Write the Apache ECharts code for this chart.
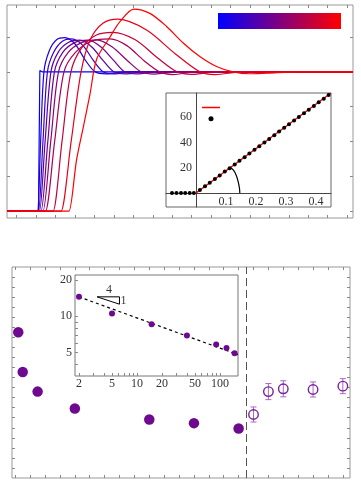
<!DOCTYPE html>
<html lang="en">
<head>
<meta charset="utf-8" />
<title>step responses</title>
<script src="https://cdn.jsdelivr.net/npm/echarts@6/dist/echarts.min.js"></script>
</head>
<body style="margin:0;background:#fff">
<div id="main" style="width:361px;height:485px;"></div>
<script>
// ---- top panel: response curves (x in tick units, y normalised to plateau)
var stepCurve = [[-0.5,0],[1.12,0],[1.19,1.01],[1.3,1.0],[17.3,1.0]];
var resp1 = [[-0.5,0],[1.0,0],[1.07,0],[1.23,0.5],[1.40,1.0],[1.67,1.15],[2.05,1.23],[2.48,1.245],[3.0,1.2],[3.5,1.09],[4.03,1.0],[4.6,0.985],[5.6,1.0],[8,1.0],[12,1.0],[17.3,1.0]];
var resp2 = [[-0.5,0],[1.05,0],[1.12,0],[1.35,0.5],[1.58,1.0],[1.9,1.14],[2.35,1.22],[2.84,1.237],[3.4,1.19],[3.95,1.08],[4.44,1.0],[5.0,0.985],[6.0,1.0],[9,1.0],[13,1.0],[17.3,1.0]];
var resp3 = [[-0.5,0],[1.1,0],[1.17,0],[1.46,0.5],[1.76,1.0],[2.13,1.14],[2.65,1.21],[3.25,1.227],[3.85,1.18],[4.45,1.08],[5.0,1.0],[5.6,0.985],[6.6,1.0],[10,1.002],[14,0.998],[17.3,1.0]];
var resp4 = [[-0.5,0],[1.18,0],[1.25,0],[1.6,0.5],[1.94,1.0],[2.37,1.14],[2.98,1.21],[3.67,1.227],[4.32,1.18],[5.0,1.08],[5.55,1.0],[6.2,0.985],[7.2,1.0],[10,1.0],[14,1.0],[17.3,1.0]];
var resp5 = [[-0.5,0],[1.28,0],[1.35,0],[1.75,0.5],[2.15,1.0],[2.65,1.14],[3.34,1.21],[4.13,1.23],[4.9,1.18],[5.7,1.08],[6.4,1.0],[7.1,0.984],[8.2,1.0],[11,1.0],[15,1.0],[17.3,1.0]];
var resp6 = [[-0.5,0],[1.41,0],[1.48,0],[1.95,0.5],[2.43,1.0],[3.02,1.14],[3.85,1.22],[4.8,1.237],[5.65,1.19],[6.55,1.08],[7.35,1.0],[8.05,0.98],[9.2,1.0],[12,1.0],[15,1.0],[17.3,1.0]];
var resp7 = [[-0.5,0],[1.8,0],[1.87,0],[2.33,0.5],[2.79,1.0],[3.33,1.17],[4.1,1.265],[4.95,1.284],[6.1,1.23],[7.25,1.1],[8.25,1.0],[9.0,0.982],[10.3,1.0],[13,1.0],[16,1.0],[17.3,1.0]];
var resp8 = [[-0.5,0],[2.21,0],[2.28,0],[2.8,0.5],[3.31,1.0],[3.78,1.23],[4.45,1.35],[5.21,1.378],[6.68,1.3],[8.15,1.13],[9.42,1.0],[10.2,0.98],[11.6,1.0],[14,1.0],[16,1.0],[17.3,1.0]];
var resp9 = [[-0.5,0],[2.62,0],[2.69,0],[3.08,0.37],[3.42,0.6],[3.77,0.84],[4.11,1.09],[4.8,1.25],[5.31,1.36],[6.03,1.451],[6.85,1.42],[7.71,1.326],[8.55,1.209],[9.42,1.11],[10.28,1.038],[11.12,1.0],[12.0,0.986],[12.9,0.991],[14.6,1.0],[17.3,1.0]];
var curves = [stepCurve, resp1, resp2, resp3, resp4, resp5, resp6, resp7, resp8, resp9];
var curveColors = ['#0000ff','#1c00e3','#3900c6','#5500aa','#71008e','#8e0071','#aa0055','#c60039','#e3001c','#ff0000'];
var topXTicks = [0,1,2,3,4,5,6,7,8,9,10,11,12,13,14,15,16,17];
var topYTicks = [0,0.25,0.5,0.75,1,1.25];

// ---- top inset: linear growth
var insetDotsX = [-0.080,-0.065,-0.050,-0.036,-0.021,-0.007,0.013,0.030,0.046,0.063,0.079,0.096,0.112,0.129,0.145,0.162,0.178,0.195,0.211,0.228,0.244,0.261,0.277,0.294,0.310,0.327,0.343,0.360,0.376,0.393,0.409,0.426,0.442];
var insetDotsY = [0,0,0,0,0,0,2.3,5.3,8.1,11.0,13.8,16.9,19.6,22.6,25.4,28.3,31.2,34.1,37.0,39.9,42.7,45.6,48.5,51.5,54.3,57.2,60.1,63.0,65.8,68.8,71.6,74.5,77.4];
var fitLine = [[0,0],[0.45,79]];
var angleArc = [[0.113,20.3],[0.125,18.0],[0.134,14.0],[0.141,8.5],[0.145,3.5],[0.146,0]];
var insetXLabels = [0.1,0.2,0.3,0.4];
var insetYLabels = [20,40,60];

// ---- bottom panel
var nFilled = [2,5,15,40,90,120,150];
var vFilled = [14.5,10.55,8.6,6.92,5.83,5.46,4.93];
var nOpen = [160,170,180,200,220];
var vOpen = [6.32,8.6,8.88,8.81,9.14];
var errOpen = [0.75,0.8,0.8,0.75,0.75];
var dividerX = 155;
var powerFit = [[2,14.5],[165,4.81]];
var slopeTriangle = [[3.3,14.5],[6.15,14.5],[6.15,12.6],[3.3,14.5]];
var slopeText = [{value:[4.6,14.5], text:'4', pos:'top'},{value:[6.15,13.5], text:'1', pos:'right'}];
var botXTicks = [0,10,20,30,40,50,60,70,80,90,100,110,120,130,140,150,160,170,180,190,200,210,220];
var botYTicks = [1,2,3,4,5,6,7,8,9,10,11,12,13,14,15,16,17,18,19,20];
var logXTicks = [2,3,4,5,6,7,8,9,10,20,30,40,50,60,70,80,90,100];
var logXLabels = [2,5,10,20,50,100];
var logYTicks = [4,5,6,7,8,9,10,20];
var logYLabels = [5,10,20];

var purple = '#6e0a8e';
var frameGray = '#999';
var serif = 'Liberation Serif';

function zip(a, b) { return a.map(function (v, i) { return [v, b[i]]; }); }

// tick-only axis on one side of a framed plot
function frameAxis(grid, pos, min, max, ticks, logType) {
  return {
    type: logType ? 'log' : 'value', gridIndex: grid, position: pos, min: min, max: max,
    axisLine: { show: false, onZero: false },
    axisTick: { show: true, inside: true, length: 3, customValues: ticks, lineStyle: { color: '#888', width: 1 } },
    axisLabel: { show: false },
    splitLine: { show: false }
  };
}

var chart = echarts.init(document.getElementById('main'));

var series = [];
curves.forEach(function (c, i) {
  series.push({
    type: 'line', xAxisIndex: 0, yAxisIndex: 0, data: c,
    smooth: i === 0 ? false : 0.3, showSymbol: false, symbol: 'none', silent: true,
    lineStyle: { color: curveColors[i], width: 1.2 }, z: 2
  });
});

// top inset
series.push({
  name: 'Fit', type: 'line', xAxisIndex: 2, yAxisIndex: 2, data: fitLine,
  symbol: 'none', lineStyle: { color: '#ff0000', width: 1.5 }, itemStyle: { color: '#ff0000' }, z: 7, silent: true
});
series.push({
  name: 'Data', type: 'scatter', xAxisIndex: 2, yAxisIndex: 2, data: zip(insetDotsX, insetDotsY),
  symbolSize: 4, itemStyle: { color: '#000', opacity: 1 }, z: 8, silent: true
});
series.push({
  type: 'line', xAxisIndex: 2, yAxisIndex: 2, data: angleArc, smooth: 0.4,
  symbol: 'none', lineStyle: { color: '#000', width: 1.2 }, z: 7, silent: true
});

// bottom main
series.push({
  type: 'scatter', xAxisIndex: 3, yAxisIndex: 3, data: zip(nFilled, vFilled),
  symbolSize: 10.5, itemStyle: { color: purple, opacity: 1 }, z: 3, silent: true,
  markLine: {
    silent: true, symbol: 'none', label: { show: false },
    lineStyle: { color: '#555', width: 1, type: [8, 4] },
    data: [{ xAxis: dividerX }]
  }
});
series.push({
  type: 'custom', xAxisIndex: 3, yAxisIndex: 3,
  data: nOpen.map(function (n, i) { return [n, vOpen[i], errOpen[i]]; }),
  silent: true, z: 3,
  renderItem: function (params, api) {
    var x = api.value(0), y = api.value(1), e = api.value(2);
    var t = api.coord([x, y + e]), b = api.coord([x, y - e]);
    var w = 3, st = { stroke: '#a868c4', lineWidth: 1 };
    return { type: 'group', children: [
      { type: 'line', shape: { x1: t[0], y1: t[1], x2: b[0], y2: b[1] }, style: st },
      { type: 'line', shape: { x1: t[0] - w, y1: t[1], x2: t[0] + w, y2: t[1] }, style: st },
      { type: 'line', shape: { x1: b[0] - w, y1: b[1], x2: b[0] + w, y2: b[1] }, style: st }
    ] };
  }
});
series.push({
  type: 'scatter', xAxisIndex: 3, yAxisIndex: 3, data: zip(nOpen, vOpen),
  symbolSize: 9.5, itemStyle: { color: 'rgba(0,0,0,0)', borderColor: '#7a1f9c', borderWidth: 1.4, opacity: 1 }, z: 4, silent: true
});

// bottom inset
series.push({
  type: 'line', xAxisIndex: 5, yAxisIndex: 5, data: powerFit, symbol: 'none', silent: true,
  lineStyle: { color: '#000', width: 1.2, type: [3, 3] }, z: 7
});
series.push({
  type: 'scatter', xAxisIndex: 5, yAxisIndex: 5, data: zip(nFilled, vFilled),
  symbolSize: 6, itemStyle: { color: purple, opacity: 1 }, z: 8, silent: true
});
series.push({
  type: 'line', xAxisIndex: 5, yAxisIndex: 5, data: slopeTriangle, symbol: 'none', silent: true,
  lineStyle: { color: '#000', width: 1 }, z: 7
});
series.push({
  type: 'scatter', xAxisIndex: 5, yAxisIndex: 5, symbolSize: 0, silent: true, z: 8,
  data: slopeText.map(function (d) {
    return { value: d.value, label: { show: true, formatter: d.text, position: d.pos, distance: 1,
      fontFamily: serif, fontSize: 12, color: '#000' } };
  })
});

var insetLabel = { fontFamily: serif, fontSize: 12, color: '#333' };

chart.setOption({
  animation: false,
  grid: [
    { left: 7, top: 5, width: 346, height: 213, show: true, borderColor: frameGray, borderWidth: 1, outerBoundsMode: 'none' },
    { left: 166, top: 93, width: 165, height: 114, show: true, backgroundColor: '#fff', borderColor: '#666', borderWidth: 1, z: 5, outerBoundsMode: 'none' },
    { left: 12, top: 267, width: 338, height: 211, show: true, borderColor: frameGray, borderWidth: 1, outerBoundsMode: 'none' },
    { left: 75, top: 275, width: 163, height: 101, show: true, backgroundColor: '#fff', borderColor: '#777', borderWidth: 1, z: 5, outerBoundsMode: 'none' }
  ],
  xAxis: [
    frameAxis(0, 'bottom', -0.5, 17.3, topXTicks),
    frameAxis(0, 'top', -0.5, 17.3, topXTicks),
    {
      // axis through y = 0 inside the inset
      type: 'value', gridIndex: 1, position: 'bottom', offset: -14, min: -0.1, max: 0.45, z: 6,
      axisLine: { onZero: false, lineStyle: { color: '#444', width: 1 } },
      axisTick: { show: false },
      axisLabel: Object.assign({ customValues: insetXLabels, margin: 3 }, insetLabel),
      splitLine: { show: false }
    },
    frameAxis(2, 'bottom', -2.2, 224.8, botXTicks),
    frameAxis(2, 'top', -2.2, 224.8, botXTicks),
    {
      type: 'log', logBase: 10, gridIndex: 3, position: 'bottom', min: 1.79, max: 165, z: 6,
      axisLine: { show: false, onZero: false },
      axisTick: { show: true, inside: true, length: 3, customValues: logXTicks, lineStyle: { color: '#888' } },
      axisLabel: Object.assign({ customValues: logXLabels, margin: 2 }, insetLabel),
      splitLine: { show: false }
    },
    frameAxis(3, 'top', 1.79, 165, logXTicks, true)
  ],
  yAxis: [
    frameAxis(0, 'left', -0.05, 1.48, topYTicks),
    frameAxis(0, 'right', -0.05, 1.48, topYTicks),
    {
      // axis through x = 0 inside the inset
      type: 'value', gridIndex: 1, position: 'left', offset: -30, min: -11.07, max: 79, z: 6,
      axisLine: { onZero: false, lineStyle: { color: '#444', width: 1 } },
      axisTick: { show: false },
      axisLabel: Object.assign({ customValues: insetYLabels, margin: 4 }, insetLabel),
      splitLine: { show: false }
    },
    frameAxis(2, 'left', 0, 21, botYTicks),
    frameAxis(2, 'right', 0, 21, botYTicks),
    {
      type: 'log', logBase: 10, gridIndex: 3, position: 'left', min: 3.2, max: 22, z: 6,
      axisLine: { show: false, onZero: false },
      axisTick: { show: true, inside: true, length: 3, customValues: logYTicks, lineStyle: { color: '#888' } },
      axisLabel: Object.assign({ customValues: logYLabels, margin: 3 }, insetLabel),
      splitLine: { show: false }
    },
    frameAxis(3, 'right', 3.2, 22, logYTicks, true)
  ],
  legend: {
    data: [
      { name: 'Fit', icon: 'path://M0,0L24,0L24,2L0,2Z' },
      { name: 'Data', icon: 'circle' }
    ],
    left: 202, top: 105, padding: 0, orient: 'vertical', z: 10,
    itemWidth: 18, itemHeight: 5, itemGap: 8, selectedMode: false, symbolKeepAspect: true,
    formatter: function () { return ''; }, textStyle: { fontSize: 1 }
  },
  graphic: [{
    type: 'rect', left: 218, top: 13, z: 10,
    shape: { width: 123, height: 16 },
    style: { fill: new echarts.graphic.LinearGradient(0, 0, 1, 0, [
      { offset: 0, color: '#0000ff' }, { offset: 0.5, color: '#800080' }, { offset: 1, color: '#ff0000' }
    ]) }
  }],
  series: series
});
</script>
</body>
</html>
